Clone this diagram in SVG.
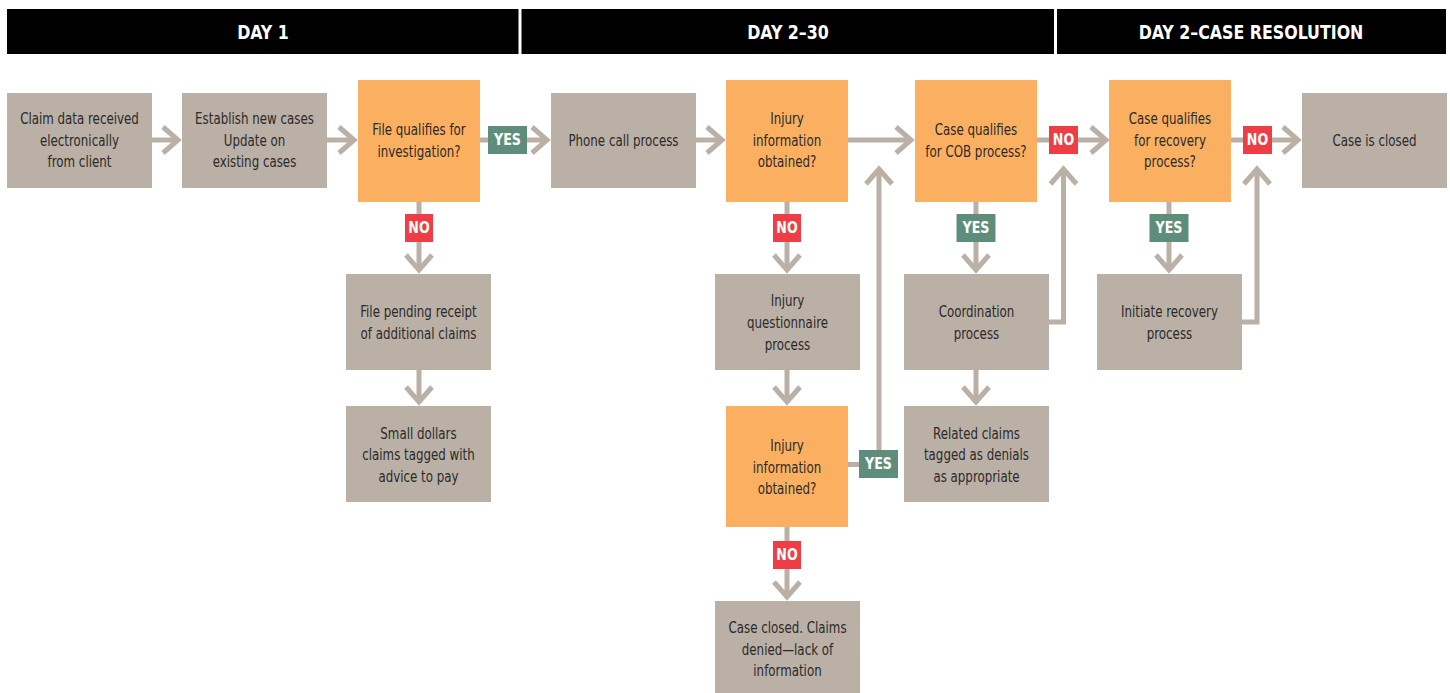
<svg xmlns="http://www.w3.org/2000/svg" width="1450" height="693" viewBox="0 0 1450 693">
<defs>
<style>
.hdr{fill:#000}
.hdrt{font-family:"Liberation Sans Narrow","DejaVu Sans Condensed","Liberation Sans",sans-serif;font-weight:bold;font-size:20px;fill:#fff;text-anchor:middle}
.proc{fill:#bab0a5}
.dec{fill:#fbb061}
.t{font-family:"Liberation Sans Narrow","DejaVu Sans Condensed","Liberation Sans",sans-serif;font-size:15.5px;fill:#2a2a2a;text-anchor:middle}
.con{fill:none;stroke:#bab0a5;stroke-width:5;stroke-linejoin:miter}
.yes{fill:#5e8e7b}
.no{fill:#ee3d44}
.lt{font-family:"Liberation Sans Narrow","DejaVu Sans Condensed","Liberation Sans",sans-serif;font-weight:bold;font-size:16px;fill:#fff;text-anchor:middle}
</style>
<marker id="ah" markerUnits="userSpaceOnUse" markerWidth="40" markerHeight="40" viewBox="-20 -20 40 40" refX="0" refY="0" orient="auto" overflow="visible">
<path d="M-15,-13 L0,0 L-15,13" fill="none" stroke="#bab0a5" stroke-width="5" stroke-linejoin="miter"/>
</marker>
</defs>
<rect width="1450" height="693" fill="#fff"/>
<g id="headers">
<rect class="hdr" x="7" y="9" width="511.5" height="45"/>
<rect class="hdr" x="521.5" y="9" width="532.5" height="45"/>
<rect class="hdr" x="1057" y="9" width="389" height="45"/>
<text class="hdrt" x="263" y="39" transform="translate(263,0) scale(0.88,1) translate(-263,0)">DAY 1</text>
<text class="hdrt" x="788" y="39" transform="translate(788,0) scale(0.88,1) translate(-788,0)">DAY 2–30</text>
<text class="hdrt" x="1251" y="39" transform="translate(1251,0) scale(0.88,1) translate(-1251,0)">DAY 2–CASE RESOLUTION</text>
</g>
<g id="connectors">
<path class="con" d="M152,140 H178" marker-end="url(#ah)"/>
<path class="con" d="M327,140 H354" marker-end="url(#ah)"/>
<path class="con" d="M480,140 H547" marker-end="url(#ah)"/>
<path class="con" d="M696,140 H722" marker-end="url(#ah)"/>
<path class="con" d="M846,140 H911" marker-end="url(#ah)"/>
<path class="con" d="M1037,140 H1106" marker-end="url(#ah)"/>
<path class="con" d="M1231,140 H1298" marker-end="url(#ah)"/>
<path class="con" d="M419,202 V270" marker-end="url(#ah)"/>
<path class="con" d="M419,370 V402" marker-end="url(#ah)"/>
<path class="con" d="M787,202 V270" marker-end="url(#ah)"/>
<path class="con" d="M787,370 V402" marker-end="url(#ah)"/>
<path class="con" d="M848,464.5 H879 V169" marker-end="url(#ah)"/>
<path class="con" d="M787,527 V597" marker-end="url(#ah)"/>
<path class="con" d="M976,202 V270" marker-end="url(#ah)"/>
<path class="con" d="M976,370 V402" marker-end="url(#ah)"/>
<path class="con" d="M1049,322 H1063.5 V169" marker-end="url(#ah)"/>
<path class="con" d="M1169,202 V270" marker-end="url(#ah)"/>
<path class="con" d="M1242,322 H1257 V169" marker-end="url(#ah)"/>
</g>
<g id="labels">
<rect class="yes" x="488" y="126" width="39" height="28"/><text class="lt" x="507.5" y="145.5" transform="translate(507.5,0) scale(0.88,1) translate(-507.5,0)">YES</text>
<rect class="no" x="405" y="214" width="28" height="28"/><text class="lt" x="419" y="233.5" transform="translate(419,0) scale(0.88,1) translate(-419,0)">NO</text>
<rect class="no" x="773" y="214" width="28" height="28"/><text class="lt" x="787" y="233.5" transform="translate(787,0) scale(0.88,1) translate(-787,0)">NO</text>
<rect class="yes" x="859" y="450" width="39" height="28"/><text class="lt" x="878.5" y="469.5" transform="translate(878.5,0) scale(0.88,1) translate(-878.5,0)">YES</text>
<rect class="no" x="773" y="541" width="28" height="28"/><text class="lt" x="787" y="560.5" transform="translate(787,0) scale(0.88,1) translate(-787,0)">NO</text>
<rect class="no" x="1049" y="126" width="29" height="28"/><text class="lt" x="1063.5" y="145.5" transform="translate(1063.5,0) scale(0.88,1) translate(-1063.5,0)">NO</text>
<rect class="yes" x="956.5" y="214" width="39" height="28"/><text class="lt" x="976" y="233.5" transform="translate(976,0) scale(0.88,1) translate(-976,0)">YES</text>
<rect class="no" x="1243" y="126" width="29" height="28"/><text class="lt" x="1257.5" y="145.5" transform="translate(1257.5,0) scale(0.88,1) translate(-1257.5,0)">NO</text>
<rect class="yes" x="1149.5" y="214" width="39" height="28"/><text class="lt" x="1169" y="233.5" transform="translate(1169,0) scale(0.88,1) translate(-1169,0)">YES</text>
</g>
<g id="n-claim-data">
<rect class="proc" x="7" y="93" width="145" height="95"/>
<g transform="translate(79.5,0) scale(0.85,1) translate(-79.5,0)">
<text class="t" x="79.5" y="124.5">Claim data received</text>
<text class="t" x="79.5" y="146.5">electronically</text>
<text class="t" x="79.5" y="167.5">from client</text>
</g>
</g>
<g id="n-establish">
<rect class="proc" x="182" y="93" width="145" height="95"/>
<g transform="translate(254.5,0) scale(0.85,1) translate(-254.5,0)">
<text class="t" x="254.5" y="124.5">Establish new cases</text>
<text class="t" x="254.5" y="146.5">Update on</text>
<text class="t" x="254.5" y="167.5">existing cases</text>
</g>
</g>
<g id="n-file-qualifies">
<rect class="dec" x="358" y="80" width="122" height="122"/>
<g transform="translate(419,0) scale(0.85,1) translate(-419,0)">
<text class="t" x="419" y="135.5">File qualifies for</text>
<text class="t" x="419" y="157.5">investigation?</text>
</g>
</g>
<g id="n-file-pending">
<rect class="proc" x="346" y="274" width="145" height="96"/>
<g transform="translate(418.5,0) scale(0.85,1) translate(-418.5,0)">
<text class="t" x="418.5" y="317.5">File pending receipt</text>
<text class="t" x="418.5" y="339.5">of additional claims</text>
</g>
</g>
<g id="n-small-dollars">
<rect class="proc" x="346" y="406" width="145" height="96"/>
<g transform="translate(418.5,0) scale(0.85,1) translate(-418.5,0)">
<text class="t" x="418.5" y="439.5">Small dollars</text>
<text class="t" x="418.5" y="460.5">claims tagged with</text>
<text class="t" x="418.5" y="482.5">advice to pay</text>
</g>
</g>
<g id="n-phone">
<rect class="proc" x="551" y="93" width="145" height="95"/>
<g transform="translate(623.5,0) scale(0.85,1) translate(-623.5,0)">
<text class="t" x="623.5" y="146.5">Phone call process</text>
</g>
</g>
<g id="n-injury1">
<rect class="dec" x="726" y="80" width="122" height="122"/>
<g transform="translate(787,0) scale(0.85,1) translate(-787,0)">
<text class="t" x="787" y="124.5">Injury</text>
<text class="t" x="787" y="146.5">information</text>
<text class="t" x="787" y="167.5">obtained?</text>
</g>
</g>
<g id="n-questionnaire">
<rect class="proc" x="715" y="274" width="145" height="96"/>
<g transform="translate(787.5,0) scale(0.85,1) translate(-787.5,0)">
<text class="t" x="787.5" y="306.5">Injury</text>
<text class="t" x="787.5" y="328.5">questionnaire</text>
<text class="t" x="787.5" y="350.5">process</text>
</g>
</g>
<g id="n-injury2">
<rect class="dec" x="726" y="406" width="122" height="121"/>
<g transform="translate(787,0) scale(0.85,1) translate(-787,0)">
<text class="t" x="787" y="451.5">Injury</text>
<text class="t" x="787" y="473.5">information</text>
<text class="t" x="787" y="494.5">obtained?</text>
</g>
</g>
<g id="n-case-closed-denied">
<rect class="proc" x="715" y="601" width="145" height="92"/>
<g transform="translate(787.5,0) scale(0.85,1) translate(-787.5,0)">
<text class="t" x="787.5" y="633.5">Case closed. Claims</text>
<text class="t" x="787.5" y="655.5">denied—lack of</text>
<text class="t" x="787.5" y="676.5">information</text>
</g>
</g>
<g id="n-cob">
<rect class="dec" x="915" y="80" width="122" height="122"/>
<g transform="translate(976,0) scale(0.85,1) translate(-976,0)">
<text class="t" x="976" y="135.5">Case qualifies</text>
<text class="t" x="976" y="157.5">for COB process?</text>
</g>
</g>
<g id="n-coordination">
<rect class="proc" x="904" y="274" width="145" height="96"/>
<g transform="translate(976.5,0) scale(0.85,1) translate(-976.5,0)">
<text class="t" x="976.5" y="317.5">Coordination</text>
<text class="t" x="976.5" y="339.5">process</text>
</g>
</g>
<g id="n-related">
<rect class="proc" x="904" y="406" width="145" height="96"/>
<g transform="translate(976.5,0) scale(0.85,1) translate(-976.5,0)">
<text class="t" x="976.5" y="439.5">Related claims</text>
<text class="t" x="976.5" y="460.5">tagged as denials</text>
<text class="t" x="976.5" y="482.5">as appropriate</text>
</g>
</g>
<g id="n-recovery">
<rect class="dec" x="1109" y="80" width="122" height="122"/>
<g transform="translate(1170,0) scale(0.85,1) translate(-1170,0)">
<text class="t" x="1170" y="124.5">Case qualifies</text>
<text class="t" x="1170" y="146.5">for recovery</text>
<text class="t" x="1170" y="167.5">process?</text>
</g>
</g>
<g id="n-initiate">
<rect class="proc" x="1097" y="274" width="145" height="96"/>
<g transform="translate(1169.5,0) scale(0.85,1) translate(-1169.5,0)">
<text class="t" x="1169.5" y="317.5">Initiate recovery</text>
<text class="t" x="1169.5" y="339.5">process</text>
</g>
</g>
<g id="n-closed">
<rect class="proc" x="1302" y="93" width="145" height="95"/>
<g transform="translate(1374.5,0) scale(0.85,1) translate(-1374.5,0)">
<text class="t" x="1374.5" y="146.5">Case is closed</text>
</g>
</g>
</svg>
